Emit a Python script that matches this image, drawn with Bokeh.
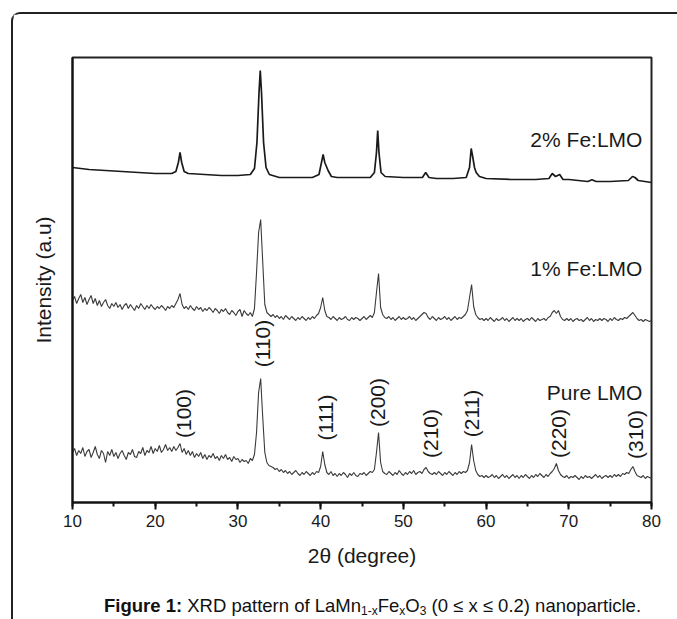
import numpy as np
from bokeh.plotting import figure
from bokeh.layouts import column
from bokeh.models import Range1d, SingleIntervalTicker, FixedTicker, Label, Div
from bokeh.core.properties import value
from bokeh.embed import file_html
from bokeh.resources import INLINE

FONT = "Liberation Sans"

# ---------------- data ----------------
# 2theta grid of the two noisy scans: 10..80 deg, step 0.25 deg
scan_start = 10.0
scan_step = 0.25

# Pure LMO (bottom trace), 4 points per degree
pure_lmo = [
    50, 54, 47, 52,   49, 55, 46, 51,   53, 45, 50, 56,   48, 44, 52, 49,   # 10-13
    40, 51, 47, 53,   46, 50, 44, 49,   52, 47, 43, 50,   48, 53, 46, 45,   # 14-17
    51, 49, 55, 47,   52, 50, 56, 49,   54, 51, 57, 50,   53, 58, 52, 55,   # 18-21
    51, 56, 52, 55,   59, 50, 54, 48,   52, 47, 51, 45,   49, 46, 50, 44,   # 22-25
    48, 43, 47, 45,   49, 44, 46, 42,   47, 44, 48, 43,   45, 41, 46, 43,   # 26-29
    44, 40, 43, 41,   42, 39, 44, 42,   48, 70, 110, 124, 85, 50, 40, 37,   # 30-33
    36, 35, 33, 34,   31, 33, 30, 32,   29, 31, 28, 30,   32, 29, 27, 30,   # 34-37
    28, 31, 29, 27,   30, 28, 31, 30,   36, 51, 38, 30,   28, 31, 27, 29,   # 38-41
    26, 29, 27, 30,   28, 25, 29, 27,   30, 27, 26, 29,   28, 30, 27, 29,   # 42-45
    31, 30, 33, 50,   70, 40, 31, 29,   28, 31, 29, 27,   30, 28, 32, 29,   # 46-49
    27, 30, 28, 31,   29, 32, 28, 30,   31, 29, 33, 35,   31, 29, 28, 30,   # 50-53
    28, 31, 29, 27,   30, 28, 31, 29,   27, 30, 28, 31,   29, 31, 30, 32,   # 54-57
    40, 58, 42, 32,   28, 26, 27, 25,   27, 25, 26, 28,   25, 27, 24, 26,   # 58-61
    28, 25, 27, 24,   26, 28, 25, 27,   24, 27, 25, 28,   26, 24, 27, 25,   # 62-65
    28, 26, 29, 27,   25, 28, 26, 29,   31, 34, 39, 32,   28, 26, 25, 27,   # 66-69
    24, 26, 25, 27,   25, 23, 26, 24,   27, 25, 26, 24,   26, 28, 25, 27,   # 70-73
    24, 26, 27, 25,   27, 25, 28, 26,   28, 26, 29, 28,   30, 29, 33, 36,   # 74-77
    31, 27, 26, 25,   27, 24, 26, 25,   24,                                  # 78-80
]

# 1% Fe:LMO (middle trace), 4 points per degree
fe1_lmo = [
    202, 206, 199, 204,   208, 200, 205, 198,   203, 207, 199, 204,   197, 202, 196, 200,   # 10-13
    203, 197, 194, 199,   196, 200, 195, 198,   193, 197, 199, 194,   198, 195, 192, 197,   # 14-17
    194, 199, 196, 193,   197, 194, 198, 195,   193, 196, 194, 197,   195, 192, 196, 194,   # 18-21
    197, 195, 199, 203,   209, 198, 194, 196,   193, 197, 194, 192,   196, 193, 195, 191,   # 22-25
    194, 192, 195, 193,   190, 194, 192, 189,   193, 191, 194, 190,   188, 192, 190, 187,   # 26-29
    191, 193, 186, 192,   189, 187, 190, 186,   194, 230, 270, 283,   240, 198, 190, 188,   # 30-33
    186, 188, 185, 187,   184, 186, 183, 187,   185, 183, 186, 184,   182, 185, 183, 186,   # 34-37
    184, 182, 185, 183,   186, 184, 187, 189,   195, 205, 192, 186,   185, 183, 186, 184,   # 38-41
    182, 185, 183, 184,   186, 183, 182, 185,   183, 185, 184, 182,   184, 186, 183, 185,   # 42-45
    187, 185, 190, 210,   229, 195, 188, 185,   184, 186, 183, 185,   182, 184, 186, 183,   # 46-49
    185, 183, 184, 186,   183, 185, 182, 184,   186, 188, 190, 189,   185, 183, 186, 184,   # 50-53
    182, 185, 183, 184,   186, 183, 185, 182,   184, 186, 183, 185,   184, 186, 188, 192,   # 54-57
    205, 218, 196, 188,   185, 183, 184, 182,   184, 182, 185, 183,   181, 184, 182, 183,   # 58-61
    185, 182, 184, 181,   183, 185, 182, 184,   182, 184, 181, 183,   184, 182, 185, 183,   # 62-65
    181, 184, 182, 183,   184, 182, 185, 186,   190, 192, 189, 192,   186, 183, 182, 184,   # 66-69
    182, 184, 181, 183,   184, 182, 183, 181,   183, 185, 182, 184,   181, 183, 182, 184,   # 70-73
    182, 184, 183, 181,   184, 182, 185, 183,   182, 184, 183, 185,   184, 186, 188, 190,   # 74-77
    187, 184, 182, 183,   181, 183, 182, 181,   182,                                        # 78-80
]

# 2% Fe:LMO (top trace, smooth) as (2theta, intensity) points
fe2_theta = [10, 12, 14, 16, 18, 20, 22, 22.5, 22.8, 23.0, 23.2, 23.5, 24, 26, 28, 30,
             31.5, 32.0, 32.3, 32.55, 32.7, 32.85, 33.1, 33.4, 33.8, 35, 37, 39,
             39.8, 40.1, 40.3, 40.5, 40.7, 40.9, 41.3, 42, 44, 46,
             46.5, 46.75, 46.9, 47.05, 47.3, 47.8, 50, 52.3, 52.7, 53.1, 54, 56,
             57.6, 58.0, 58.2, 58.4, 58.6, 58.8, 59.2, 60, 63, 66,
             67.6, 68.0, 68.4, 68.9, 69.3, 70, 72.3, 72.8, 73.3, 75,
             77.2, 77.7, 78.0, 78.4, 80]
fe2_lmo = [335, 333, 332, 331, 330, 329, 329, 331, 340, 350, 340, 331, 329, 328, 327, 327,
           328, 334, 360, 410, 432, 410, 360, 335, 328, 325, 325, 325,
           328, 340, 348, 340, 336, 332, 326, 325, 325, 325,
           330, 350, 372, 350, 330, 326, 325, 325, 330, 325, 324, 324,
           325, 335, 354, 345, 335, 330, 326, 324, 323, 323,
           324, 329, 326, 328, 323, 323, 321, 322.7, 321, 321,
           322, 326, 325, 322, 320]

# Miller-index labels of the reflections
hkl_labels = ["(100)", "(110)", "(111)", "(200)", "(210)", "(211)", "(220)", "(310)"]
hkl_theta = [23.4, 32.97, 40.6, 46.9, 53.3, 58.2, 68.75, 78.1]
hkl_level = [89, 159, 85, 100, 69, 89, 69, 68]

sample_names = ["2% Fe:LMO", "1% Fe:LMO", "Pure LMO"]
sample_label_level = [363, 234, 110]

x_ticks_interval = 10

SUB = '<span style="font-size:12px;vertical-align:-3px">{}</span>'
caption_html = ('<b>Figure 1:</b> XRD pattern of LaMn' + SUB.format('1-x') + 'Fe'
                + SUB.format('x') + 'O' + SUB.format('3')
                + ' (0 &le; x &le; 0.2) nanoparticle.')

# ---------------- figure ----------------
p = figure(width=664, height=576, output_backend="svg", toolbar_location=None,
           x_range=Range1d(10, 80), y_range=Range1d(0, 445),
           min_border_left=59, min_border_right=26, min_border_top=43,
           min_border_bottom=88, background_fill_color="white",
           border_fill_color="white")
p.grid.visible = False
p.outline_line_color = "#222222"
p.outline_line_width = 2

xs_pure = scan_start + scan_step * np.arange(len(pure_lmo))
xs_fe1 = scan_start + scan_step * np.arange(len(fe1_lmo))

p.line(xs_pure, pure_lmo, line_color="#3a3a3a", line_width=1.1)
p.line(xs_fe1, fe1_lmo, line_color="#3a3a3a", line_width=1.1)
p.line(fe2_theta, fe2_lmo, line_color="#1a1a1a", line_width=1.7)

p.text(x=hkl_theta, y=hkl_level, text=hkl_labels, angle=np.pi / 2,
       text_align="center", text_baseline="middle",
       text_font=value(FONT), text_font_size="21px", text_color="#1a1a1a")

for name, lvl in zip(sample_names, sample_label_level):
    p.add_layout(Label(x=78.9, y=lvl, text=name, text_align="right",
                       text_baseline="middle", text_font=FONT,
                       text_font_size="21px", text_color="#1a1a1a"))

# x axis
xa = p.xaxis[0]
xa.ticker = SingleIntervalTicker(interval=x_ticks_interval, num_minor_ticks=2)
xa.axis_line_color = "#111111"
xa.axis_line_width = 2
xa.major_tick_line_color = "#111111"
xa.major_tick_line_width = 2
xa.major_tick_out = 7
xa.major_tick_in = 0
xa.minor_tick_line_color = "#111111"
xa.minor_tick_line_width = 2
xa.minor_tick_out = 4
xa.minor_tick_in = 0
xa.major_label_text_font = FONT
xa.major_label_text_font_size = "17px"
xa.major_label_text_color = "#1a1a1a"
xa.major_label_standoff = 5
xa.axis_label = "2θ (degree)"
xa.axis_label_text_font = FONT
xa.axis_label_text_font_size = "21px"
xa.axis_label_text_font_style = "normal"
xa.axis_label_text_color = "#1a1a1a"
xa.axis_label_standoff = 14

# y axis
ya = p.yaxis[0]
ya.ticker = FixedTicker(ticks=[])
ya.axis_line_color = "#111111"
ya.axis_line_width = 2
ya.major_tick_out = 0
ya.minor_tick_out = 0
ya.major_label_text_font_size = "0px"
ya.axis_label = "Intensity (a.u)"
ya.axis_label_text_font = FONT
ya.axis_label_text_font_size = "21px"
ya.axis_label_text_font_style = "normal"
ya.axis_label_text_color = "#1a1a1a"
ya.axis_label_standoff = 18

cap = Div(text=caption_html, width=664, height=28,
          styles={"font-family": FONT, "font-size": "18.5px", "color": "#111111",
                  "padding-left": "86px", "white-space": "nowrap",
                  "line-height": "21px"})

page = column(p, cap, spacing=0,
              styles={"margin-left": "11px", "margin-top": "12px",
                      "border-left": "2px solid #222222",
                      "border-top": "2px solid #222222",
                      "border-top-left-radius": "9px",
                      "background-color": "white"})

open("out.html", "w").write(file_html(page, INLINE))
